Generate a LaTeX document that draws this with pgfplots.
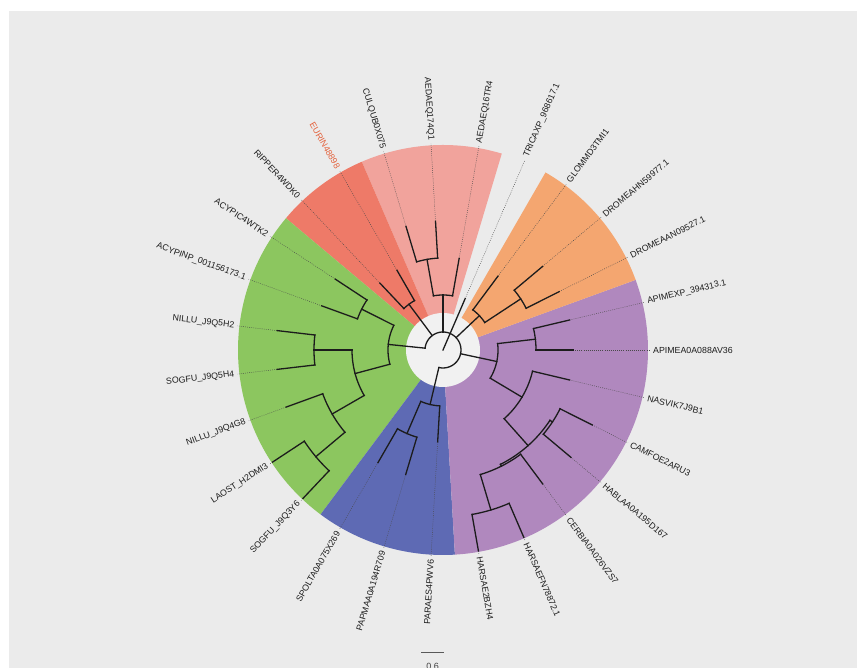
\documentclass[border=0pt]{standalone}
\usepackage{pgfplots}
\pgfplotsset{compat=1.18}
\usepackage{fontspec}
\setmainfont{Liberation Sans}

\definecolor{panel}{HTML}{EBEBEB}
\definecolor{hub}{HTML}{F1F1F1}
\definecolor{cPink}{HTML}{F1A39C}
\definecolor{cRed}{HTML}{EE7A68}
\definecolor{cGreen}{HTML}{8CC65F}
\definecolor{cBlue}{HTML}{5E6AB4}
\definecolor{cPurple}{HTML}{B088BE}
\definecolor{cOrange}{HTML}{F4A670}
\definecolor{cHighlight}{HTML}{E4623C}
\definecolor{ink}{HTML}{1C1C1C}

\pgfplotsset{
  branch/.style={draw=ink, line width=1.3pt, line cap=rect, mark=none, data cs=polar},
  leafdots/.style={draw=ink!80, line width=0.45pt, dash pattern=on 0.8pt off 1.3pt, mark=none, data cs=polar},
  tiplabel/.style={data cs=polar, only marks, mark=none, nodes near coords,
    every node near coord/.append style={inner sep=0pt, font=\fontsize{8.8}{10}\selectfont}},
}
% radial segment: angle, inner radius, outer radius
\newcommand\Branch[3]{\addplot[branch] coordinates {(#1,#2) (#1,#3)};}
% arc joining the children of a node: start angle, end angle, radius
\newcommand\NodeArc[3]{\addplot[branch, domain=#1:#2, samples=40] (x,#3);}
% dotted guide from a tip out to the label ring
\newcommand\Guide[2]{\addplot[leafdots] coordinates {(#1,#2) (#1,207)};}
% coloured clade sector
\newcommand\Sector[3]{\addplot[fill=#1, draw=none, data cs=polar, domain=#2:#3, samples=80] (x,205) -- (axis cs:0,0) -- cycle;}
% tip names on the right half (read outwards) and on the left half (flipped)
\newcommand\RLabel[3][ink]{\addplot[tiplabel, nodes near coords={#3},
  every node near coord/.append style={rotate=#2, anchor=west, text=#1}] coordinates {(#2,210)};}
\newcommand\LLabel[3][ink]{\addplot[tiplabel, nodes near coords={#3},
  every node near coord/.append style={rotate=#2-180, anchor=east, text=#1}] coordinates {(#2,210)};}

\begin{document}
\begin{tikzpicture}
\begin{axis}[
  hide axis, scale only axis,
  width=857pt, height=668pt,
  xmin=-443, xmax=414, ymin=-318, ymax=350,
  clip=false,
]
% page and panel
\addplot[fill=white, draw=none] coordinates {(-443,-318) (414,-318) (414,350) (-443,350)} -- cycle;
\addplot[fill=panel, draw=none] coordinates {(-434,-318) (414,-318) (414,339) (-434,339)} -- cycle;

% clade sectors
\Sector{cPink}{73.33}{113.33}
\Sector{cRed}{113.33}{140}
\Sector{cGreen}{140}{233.33}
\Sector{cBlue}{233.33}{273.33}
\Sector{cPurple}{273.33}{380}
\Sector{cOrange}{20}{60}
% open hub
\addplot[fill=hub, draw=none, data cs=polar, domain=0:360, samples=90] (x,37) -- cycle;

% dotted guides from each tip
\Guide{0}{130}\Guide{13.33}{130}\Guide{26.67}{130}\Guide{40}{130}
\Guide{53.33}{92}\Guide{66.67}{56}\Guide{80}{93}\Guide{93.33}{129}
\Guide{106.67}{129}\Guide{120}{92}\Guide{133.33}{92}\Guide{146.67}{129}
\Guide{160}{129}\Guide{173.33}{167}\Guide{186.67}{167}\Guide{200}{167}
\Guide{213.33}{204}\Guide{226.67}{204}\Guide{240}{130}\Guide{253.33}{130}
\Guide{266.67}{92}\Guide{280}{204}\Guide{293.33}{204}\Guide{306.67}{167}
\Guide{320}{167}\Guide{333.33}{167}\Guide{346.67}{130}

% root
\NodeArc{-103.33}{174.17}{18}
\Branch{66.67}{0}{56}
\Branch{90}{18}{55}
\Branch{126.67}{18}{57}
\Branch{174.17}{18}{55}
\Branch{-103.33}{18}{56}
\Branch{-12.08}{18}{55}
\Branch{43.33}{18}{50}

% pink clade
\NodeArc{80}{100}{55}
\Branch{80}{55}{93}
\Branch{100}{55}{92}
\NodeArc{93.33}{106.67}{92}
\Branch{93.33}{92}{129}
\Branch{106.67}{92}{129}

% red clade
\NodeArc{120}{133.33}{57}
\Branch{120}{57}{92}
\Branch{133.33}{57}{92}

% orange clade
\NodeArc{33.33}{53.33}{50}
\Branch{53.33}{50}{92}
\Branch{33.33}{50}{93}
\NodeArc{26.67}{40}{93}
\Branch{26.67}{93}{130}
\Branch{40}{93}{130}

% purple clade
\NodeArc{-30.83}{6.67}{55}
\Branch{6.67}{55}{93}
\NodeArc{0}{13.33}{93}
\Branch{0}{93}{130}
\Branch{13.33}{93}{130}
\Branch{-30.83}{55}{92}
\NodeArc{-48.33}{-13.33}{92}
\Branch{-13.33}{92}{130}
\Branch{-48.33}{92}{128}
\NodeArc{-63.33}{-33.33}{128}
\Branch{-33.33}{128}{131}
\NodeArc{-40}{-26.67}{131}
\Branch{-26.67}{131}{167}
\Branch{-40}{131}{167}
\Branch{-63.33}{128}{130}
\NodeArc{-73.33}{-53.33}{130}
\Branch{-53.33}{130}{167}
\Branch{-73.33}{130}{167}
\NodeArc{-80}{-66.67}{167}
\Branch{-80}{167}{204}
\Branch{-66.67}{167}{204}

% blue clade
\NodeArc{-113.33}{-93.33}{56}
\Branch{-93.33}{56}{92}
\Branch{-113.33}{56}{91}
\NodeArc{-120}{-106.67}{91}
\Branch{-120}{91}{130}
\Branch{-106.67}{91}{130}

% green clade
\NodeArc{153.33}{195}{55}
\Branch{153.33}{55}{91}
\NodeArc{146.67}{160}{91}
\Branch{146.67}{91}{129}
\Branch{160}{91}{129}
\Branch{195}{55}{91}
\NodeArc{180}{210}{91}
\Branch{180}{91}{129}
\NodeArc{173.33}{186.67}{129}
\Branch{173.33}{129}{167}
\Branch{186.67}{129}{167}
\Branch{210}{91}{128}
\NodeArc{200}{220}{128}
\Branch{200}{128}{167}
\Branch{220}{128}{166}
\NodeArc{213.33}{226.67}{166}
\Branch{213.33}{166}{204}
\Branch{226.67}{166}{204}

% tip labels
\RLabel{0}{APIMEA0A088AV36}
\RLabel{13.33}{APIMEXP\_394313.1}
\RLabel{26.67}{DROMEAAN09527.1}
\RLabel{40}{DROMEAHN59977.1}
\RLabel{53.33}{GLOMMD3TMI1}
\RLabel{66.67}{TRICAXP\_968617.1}
\RLabel{80}{AEDAEQ16TR4}
\LLabel{93.33}{AEDAEQ174Q1}
\LLabel{106.67}{CULQUB0X075}
\LLabel[cHighlight]{120}{EURIN48898}
\LLabel{133.33}{RIPPER4WDK0}
\LLabel{146.67}{ACYPIC4WTK2}
\LLabel{160}{ACYPINP\_001156173.1}
\LLabel{173.33}{NILLU\_J9Q5H2}
\LLabel{186.67}{SOGFU\_J9Q5H4}
\LLabel{200}{NILLU\_J9Q4G8}
\LLabel{213.33}{LAOST\_H2DMI3}
\LLabel{226.67}{SOGFU\_J9Q3Y6}
\LLabel{240}{SPOLTA0A075X269}
\LLabel{253.33}{PAPMAA0A194R709}
\LLabel{266.67}{PARAES4PWV6}
\RLabel{-80}{HARSAE2BZH4}
\RLabel{-66.67}{HARSAEFN78872.1}
\RLabel{-53.33}{CERBIA0A026VZS7}
\RLabel{-40}{HABLAA0A195D167}
\RLabel{-26.67}{CAMFOE2ARU3}
\RLabel{-13.33}{NASVIK7J9B1}

% scale bar
\addplot[draw=black!65, line width=1.4pt, mark=none] coordinates {(-22,-302.7) (1.3,-302.7)};
\node[anchor=north, inner sep=0pt, text=black!75, font=\fontsize{9}{10}\selectfont] at (axis cs:-10.4,-312.8) {0.6};
\end{axis}
\pgfresetboundingbox
\path[use as bounding box] (current axis.south west) rectangle (current axis.north east);
\end{tikzpicture}
\end{document}
